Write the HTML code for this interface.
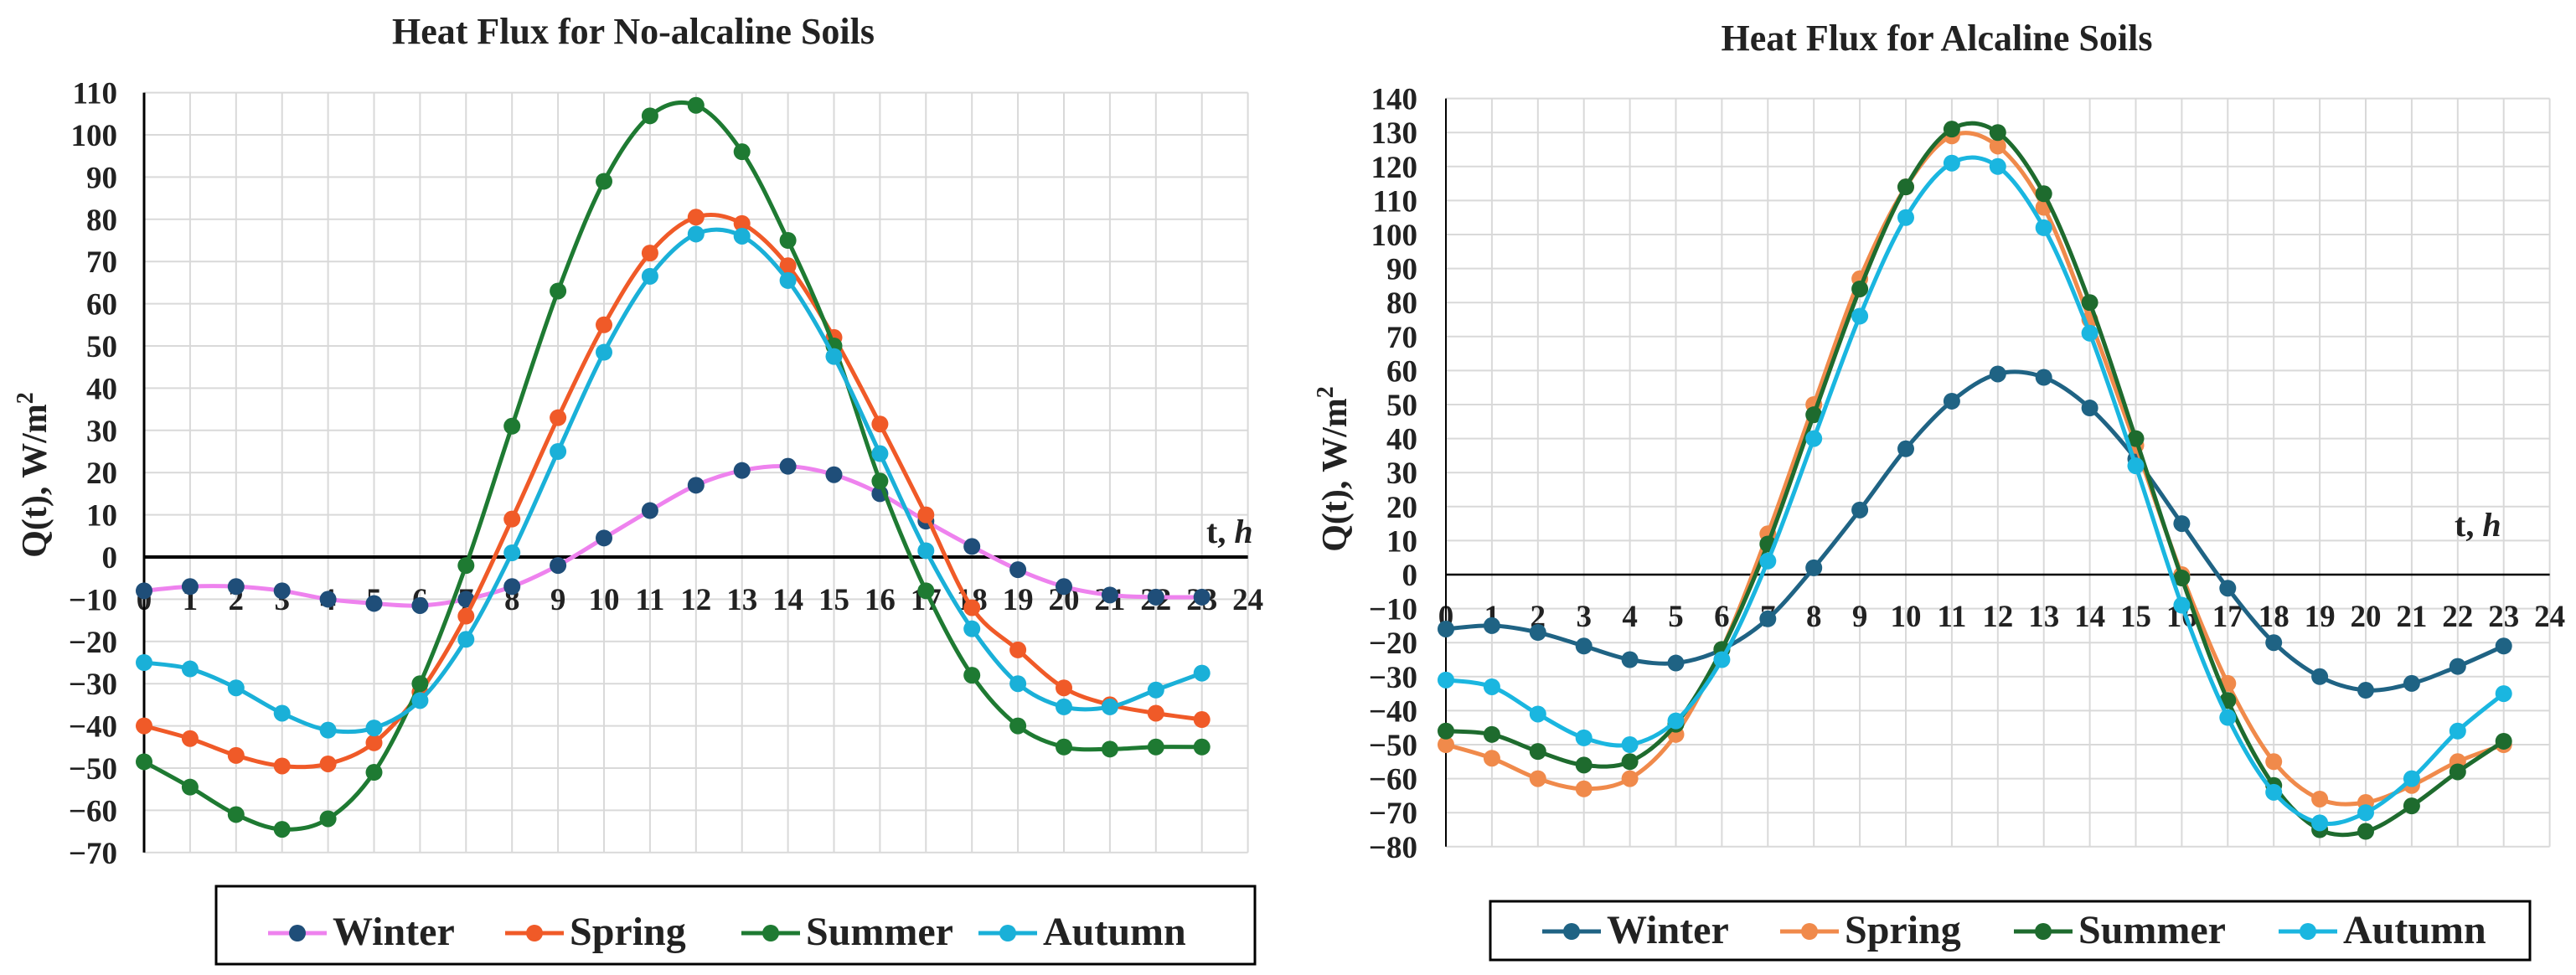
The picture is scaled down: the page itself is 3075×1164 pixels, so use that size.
<!DOCTYPE html>
<html><head><meta charset="utf-8"><style>
html,body{margin:0;padding:0;background:#fff}
svg{display:block}
text{font-family:"Liberation Serif",serif;font-weight:bold;fill:#222}
</style></head><body>
<svg id="fig" width="3075" height="1164" viewBox="0 0 3075 1164" xmlns="http://www.w3.org/2000/svg"></svg>
<script>
const hours = [0,1,2,3,4,5,6,7,8,9,10,11,12,13,14,15,16,17,18,19,20,21,22,23];
const seriesNames = ["Winter","Spring","Summer","Autumn"];
const leftWinter = [-8,-7,-7,-8,-10,-11,-11.5,-10,-7,-2,4.5,11,17,20.5,21.5,19.5,15,8.5,2.5,-3,-7,-9,-9.5,-9.5];
const leftSpring = [-40,-43,-47,-49.5,-49,-44,-32,-14,9,33,55,72,80.5,79,69,52,31.5,10,-12,-22,-31,-35,-37,-38.5];
const leftSummer = [-48.5,-54.5,-61,-64.5,-62,-51,-30,-2,31,63,89,104.5,107,96,75,50,18,-8,-28,-40,-45,-45.5,-45,-45];
const leftAutumn = [-25,-26.5,-31,-37,-41,-40.5,-34,-19.5,1,25,48.5,66.5,76.5,76,65.5,47.5,24.5,1.5,-17,-30,-35.5,-35.5,-31.5,-27.5];
const rightWinter = [-16,-15,-17,-21,-25,-26,-22,-13,2,19,37,51,59,58,49,34,15,-4,-20,-30,-34,-32,-27,-21];
const rightSpring = [-50,-54,-60,-63,-60,-47,-22,12,50,87,114,129,126,108,75,38,0,-32,-55,-66,-67,-62,-55,-50];
const rightSummer = [-46,-47,-52,-56,-55,-44,-22,9,47,84,114,131,130,112,80,40,-1,-37,-62,-75,-75.5,-68,-58,-49];
const rightAutumn = [-31,-33,-41,-48,-50,-43,-25,4,40,76,105,121,120,102,71,32,-9,-42,-64,-73,-70,-60,-46,-35];
const leftYTicks = [110,100,90,80,70,60,50,40,30,20,10,0,-10,-20,-30,-40,-50,-60,-70];
const rightYTicks = [140,130,120,110,100,90,80,70,60,50,40,30,20,10,0,-10,-20,-30,-40,-50,-60,-70,-80];
const xTicks = [0,1,2,3,4,5,6,7,8,9,10,11,12,13,14,15,16,17,18,19,20,21,22,23,24];

const NS="http://www.w3.org/2000/svg";
const svg=document.getElementById('fig');
function mk(tag,attrs,parent){const e=document.createElementNS(NS,tag);for(const k in attrs)e.setAttribute(k,attrs[k]);(parent||svg).appendChild(e);return e;}
function path(pts){let d="M"+pts[0][0]+","+pts[0][1];for(let i=0;i<pts.length-1;i++){const p0=pts[Math.max(0,i-1)],p1=pts[i],p2=pts[i+1],p3=pts[Math.min(pts.length-1,i+2)];const c1=[p1[0]+(p2[0]-p0[0])/6,p1[1]+(p2[1]-p0[1])/6],c2=[p2[0]-(p3[0]-p1[0])/6,p2[1]-(p3[1]-p1[1])/6];d+=" C"+c1[0]+","+c1[1]+" "+c2[0]+","+c2[1]+" "+p2[0]+","+p2[1];}return d;}

function chart(cfg){
  const g=mk('g',{});
  
  
  const X=v=>cfg.x0+v*cfg.dx;
  const Y=v=>cfg.y0-v*cfg.dy;
  const yMax=cfg.yTicks[0],yMin=cfg.yTicks[cfg.yTicks.length-1];
  const t=mk('text',{x:cfg.titleX,y:cfg.titleY,'text-anchor':'middle','font-size':44},g);t.textContent=cfg.title;
  
  
  cfg.yTicks.forEach(v=>{const l=mk('line',{x1:X(0),x2:X(24),y1:Y(v),y2:Y(v),stroke:'#d9d9d9','stroke-width':2},g);
    
    
    const tx=mk('text',{x:cfg.yLabelX,y:Y(v)+13,'text-anchor':'end','font-size':37},g);tx.textContent=v<0?'\u2212'+(-v):v;
    
    });
  xTicks.forEach(v=>{const l=mk('line',{x1:X(v),x2:X(v),y1:Y(yMax),y2:Y(yMin),stroke:'#d9d9d9','stroke-width':2},g);
    
    
    const tx=mk('text',{x:X(v),y:cfg.xLabelY,'text-anchor':'middle','font-size':37},g);tx.textContent=v;
    
    });
  const ya=mk('line',{x1:X(0),x2:X(0),y1:Y(yMax),y2:Y(yMin),stroke:'#000','stroke-width':cfg.axW},g);
  
  
  const xa=mk('line',{x1:X(0),x2:X(24),y1:Y(0),y2:Y(0),stroke:'#000','stroke-width':cfg.zeroW},g);
  
  
  const th=mk('text',{x:cfg.thX,y:cfg.thY,'font-size':40},g);th.innerHTML='t, <tspan font-style="italic">h</tspan>';
  
  
  const yl=mk('text',{transform:`translate(${cfg.ylX},${cfg.ylY}) rotate(-90)`,'text-anchor':'middle','font-size':42},g);yl.innerHTML='Q(t),  W/m<tspan dy="-16" font-size="28">2</tspan>';
  
  
  cfg.series.forEach((s,i)=>{
    const pts=hours.map((h,j)=>[X(h),Y(s[j])]);
    const p=mk('path',{d:path(pts),fill:'none',stroke:cfg.lineColors[i],'stroke-width':5},g);
    
    
    pts.forEach(q=>{const c=mk('circle',{cx:q[0],cy:q[1],r:10,fill:cfg.markColors[i]},g);
      
      });
  });
  const lb=mk('rect',{x:cfg.legX,y:cfg.legY,width:cfg.legW,height:cfg.legH,fill:'#fff',stroke:'#000','stroke-width':3},g);
  
  
  seriesNames.forEach((n,i)=>{const lx=cfg.legItems[i];const ly=cfg.legTextY-14;
    const l=mk('line',{x1:lx,x2:lx+70,y1:ly,y2:ly,stroke:cfg.lineColors[i],'stroke-width':5},g);
    
    
    const c=mk('circle',{cx:lx+35,cy:ly,r:10,fill:cfg.markColors[i]},g);
    
    
    const tx=mk('text',{x:lx+77,y:cfg.legTextY,'font-size':48},g);tx.textContent=n;
    
    });
}
chart({name:'left-chart',title:'Heat Flux for No-alcaline Soils',titleX:756,titleY:52,x0:172,dx:54.9,y0:665,dy:5.04,yTicks:leftYTicks,yLabelX:140,xLabelY:728,axW:3,zeroW:4,thX:1440,thY:648,ylX:55,ylY:567,
  series:[leftWinter,leftSpring,leftSummer,leftAutumn],lineColors:['#ee82ee','#f05a28','#1e7a32','#1ab0d8'],markColors:['#1f4e79','#f05a28','#1e7a32','#1ab0d8'],
  legX:258,legY:1058,legW:1240,legH:93,legItems:[320,603,885,1168],legTextY:1128});
chart({name:'right-chart',title:'Heat Flux for Alcaline Soils',titleX:2312,titleY:60,x0:1726,dx:54.9,y0:686,dy:4.06,yTicks:rightYTicks,yLabelX:1692,xLabelY:748,axW:2,zeroW:2.5,thX:2930,thY:640,ylX:1607,ylY:560,
  series:[rightWinter,rightSpring,rightSummer,rightAutumn],lineColors:['#1f6384','#f08a4b','#1e6b2e','#1ab6e0'],markColors:['#1f6384','#f08a4b','#1e6b2e','#1ab6e0'],
  legX:1779,legY:1076,legW:1241,legH:70,legItems:[1841,2125,2404,2720],legTextY:1126});
</script>
</body></html>
